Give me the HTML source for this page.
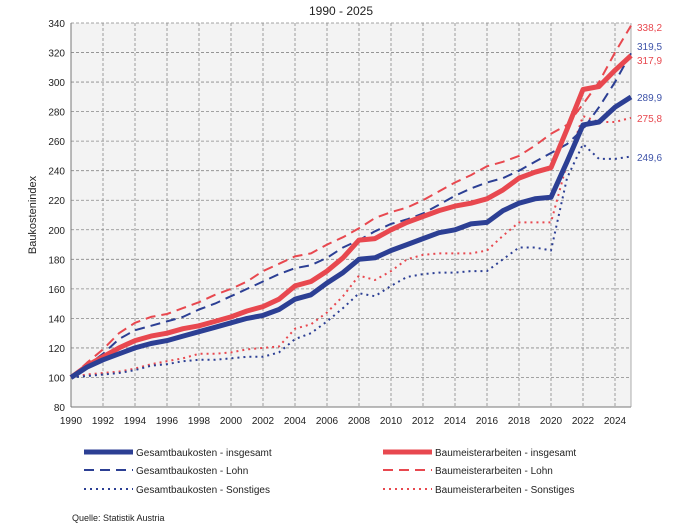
<!DOCTYPE html>
<html><head><meta charset="utf-8"><style>
body{margin:0;background:#fff;}
svg{display:block;font-family:"Liberation Sans",sans-serif;}
</style></head><body>
<svg id="s" width="682" height="529" viewBox="0 0 682 529" xmlns="http://www.w3.org/2000/svg">
<text x="341" y="15" text-anchor="middle" font-size="12" fill="#222">1990 - 2025</text>
<rect x="71" y="23" width="560" height="384" fill="#f3f3f3"/>
<g id="grid"></g>
<g id="series"></g>
<text transform="translate(36,215) rotate(-90)" text-anchor="middle" font-size="11" fill="#222">Baukostenindex</text>
<g font-size="10" font-weight="normal">
<text x="637" y="31" fill="#e8484f">338,2</text>
<text x="637" y="50" fill="#3d52a8">319,5</text>
<text x="637" y="64" fill="#e8484f">317,9</text>
<text x="637" y="101" fill="#3d52a8">289,9</text>
<text x="637" y="122" fill="#e8484f">275,8</text>
<text x="637" y="161" fill="#3d52a8">249,6</text>
</g>
<g font-size="10" fill="#222">
<line x1="84" y1="452" x2="133" y2="452" stroke="#2c3f94" stroke-width="5"/>
<text x="136" y="456">Gesamtbaukosten - insgesamt</text>
<line x1="84" y1="470" x2="133" y2="470" stroke="#2c3f94" stroke-width="2" stroke-dasharray="10,6"/>
<text x="136" y="474">Gesamtbaukosten - Lohn</text>
<line x1="84" y1="489" x2="133" y2="489" stroke="#2c3f94" stroke-width="2" stroke-dasharray="2,4"/>
<text x="136" y="493">Gesamtbaukosten - Sonstiges</text>
<line x1="383" y1="452" x2="432" y2="452" stroke="#e8484f" stroke-width="5"/>
<text x="435" y="456">Baumeisterarbeiten - insgesamt</text>
<line x1="383" y1="470" x2="432" y2="470" stroke="#e8484f" stroke-width="2" stroke-dasharray="10,6"/>
<text x="435" y="474">Baumeisterarbeiten - Lohn</text>
<line x1="383" y1="489" x2="432" y2="489" stroke="#e8484f" stroke-width="2" stroke-dasharray="2,4"/>
<text x="435" y="493">Baumeisterarbeiten - Sonstiges</text>
<text x="72" y="521" font-size="9">Quelle: Statistik Austria</text>
</g>
</svg>
<script>
var NS="http://www.w3.org/2000/svg";
function X(y){return 71+(y-1990)*16;}
function Y(v){return 23+(340-v)*1.477;}
function el(t,a,p){var e=document.createElementNS(NS,t);for(var k in a)e.setAttribute(k,a[k]);(p||document.getElementById('s')).appendChild(e);return e;}
var g=document.getElementById('grid');
for(var v=80;v<=340;v+=20){
 if(v>80&&v<340) el('line',{x1:71,x2:631,y1:Y(v),y2:Y(v),stroke:'#888','stroke-width':0.8,'stroke-dasharray':'3,2'},g);
 var t=el('text',{x:65,y:Y(v)+4,'text-anchor':'end','font-size':10,fill:'#222'},g);t.textContent=v;
}
el('line',{x1:71,x2:631,y1:Y(340),y2:Y(340),stroke:'#888','stroke-width':0.8,'stroke-dasharray':'3,2'},g);
for(var y=1990;y<=2024;y+=2){
 if(y>1990) el('line',{x1:X(y),x2:X(y),y1:23,y2:407,stroke:'#888','stroke-width':0.8,'stroke-dasharray':'3,2'},g);
 var t=el('text',{x:X(y),y:424,'text-anchor':'middle','font-size':10,fill:'#222'},g);t.textContent=y;
}
el('line',{x1:71,x2:71,y1:23,y2:407,stroke:'#777','stroke-width':1},g);
el('line',{x1:71,x2:631,y1:407,y2:407,stroke:'#777','stroke-width':1},g);
el('line',{x1:631,x2:631,y1:23,y2:407,stroke:'#999','stroke-width':0.8},g);
var B='#2c3f94',R='#e8484f';
var S=[
[R,2,'2,4',[100,102,103,104,106,109,111,113,116,116,117,119,120,121,133,136,144,155,169,166,172,180,183,184,184,184,186,196,205,205,205,245,277,273,273,275.8]],
[B,2,'2,4',[100,101,102,103,105,108,109,111,112,112,113,114,114,117,126,130,138,147,157,155,162,168,170,171,171,172,172,180,188,188,186,235,258,248,248,249.6]],
[R,2,'10,6',[100,110,119,130,137,141,143,147,151,156,160,165,172,177,182,184,190,195,201,208,212,215,220,226,232,237,243,246,250,257,265,271,285,300,320,338.2]],
[B,2,'10,6',[100,108,116,126,132,135,138,141,146,150,155,160,165,170,174,176,181,188,193,199,204,207,211,217,223,228,232,235,240,246,252,258,268,283,300,319.5]],
[R,5,'',[100,108,114,120,125,128,130,133,135,138,141,145,148,153,162,165,172,181,193,194,200,205,209,213,216,218,221,227,235,239,242,268,295,297,308,317.9]],
[B,5,'',[100,107,112,116,120,123,125,128,131,134,137,140,142,146,153,156,164,171,180,181,186,190,194,198,200,204,205,213,218,221,222,246,271,273,283,289.9]]
];
var sg=document.getElementById('series');
S.forEach(function(s){
 var pts=s[3].map(function(v,i){return X(1990+i)+','+Y(v).toFixed(1);}).join(' ');
 var a={points:pts,fill:'none',stroke:s[0],'stroke-width':s[1],'stroke-linejoin':'round'};
 if(s[2])a['stroke-dasharray']=s[2];
 el('polyline',a,sg);
});
</script>
</body></html>
